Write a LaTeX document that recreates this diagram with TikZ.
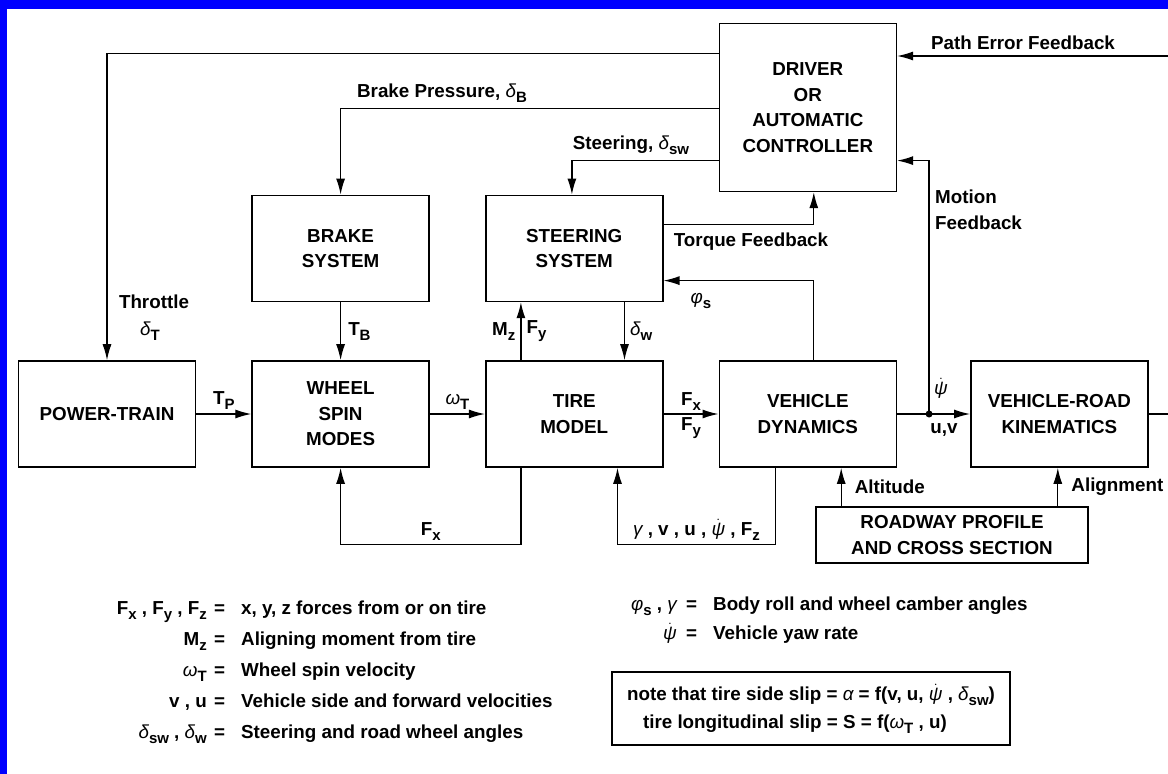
\documentclass[tikz,border=0pt]{standalone}
\usepackage{fontspec}
\setmainfont{Liberation Sans}
\usepackage{tikz}
\usetikzlibrary{arrows.meta, positioning}
\newcommand{\lowsub}[1]{\raisebox{-5pt}{\fontsize{15}{15}\selectfont #1}}
\newcommand{\gk}[1]{{\mdseries\itshape #1}}
\newcommand{\psidot}{$\dot{\hbox{\mdseries\itshape ψ}}$}
\tikzset{
  block/.style={draw, line width=1.6pt, align=center, minimum width=177pt,
    minimum height=106pt, font=\bfseries\fontsize{18.8}{25.5}\selectfont},
  roadbox/.style={block, minimum width=272pt, minimum height=56pt},
  notebox/.style={draw, line width=1.6pt, align=left, minimum width=398pt,
    minimum height=73pt, font=\bfseries\fontsize{18.8}{28}\selectfont},
  txt/.style={inner sep=1pt, font=\bfseries\fontsize{18.8}{25.5}\selectfont},
  symtab/.style={inner sep=0pt, font=\bfseries\fontsize{18.8}{31}\selectfont},
  symtabb/.style={inner sep=0pt, font=\bfseries\fontsize{18.8}{29}\selectfont},
  arrow/.style={-{Latex[length=16pt, width=9pt]}, line width=1.3pt},
  wire/.style={line width=1.3pt}
}

\begin{document}
\begin{tikzpicture}[x=1pt, y=-1pt, node distance=55pt and 55pt]
    \useasboundingbox (0,0) rectangle (1168,774);
    \fill[white] (0,0) rectangle (1168,774);
    \fill[blue] (0,0) rectangle (1168,9);
    \fill[blue] (0,0) rectangle (7,774);

    % blocks
    \node[block] (pt) at (107,414) {POWER-TRAIN};
    \node[block, right=of pt] (ws) {WHEEL\\SPIN\\MODES};
    \node[block, right=of ws] (tire) {TIRE\\MODEL};
    \node[block, right=of tire] (vd) {VEHICLE\\DYNAMICS};
    \node[block, right=73pt of vd] (vr) {VEHICLE-ROAD\\KINEMATICS};
    \node[block, above=58pt of ws] (brake) {BRAKE\\SYSTEM};
    \node[block, above=58pt of tire] (steer) {STEERING\\SYSTEM};
    \node[block, minimum height=168pt, above=168pt of vd] (driver) {DRIVER\\OR\\AUTOMATIC\\CONTROLLER};
    \node[roadbox] (road) at (952,535) {ROADWAY PROFILE\\AND CROSS SECTION};

    % driver outputs
    \draw[arrow] ([yshift=-31pt]driver.north west) -| (pt.north);
    \draw[arrow] ([yshift=-86pt]driver.north west) -| (brake.north);
    \draw[arrow] ([yshift=-138pt]driver.north west) -| ([xshift=87pt]steer.north west);
    \node[txt] (lthr) at (154,302) {Throttle};
    \node[txt] (ldt) at (150,331) {\gk{δ}\lowsub{T}};
    \node[txt] (lbp) at (442,93) {Brake Pressure, \gk{δ}\lowsub{B}};
    \node[txt] (lsw) at (631,145) {Steering, \gk{δ}\lowsub{sw}};

    % feedback to driver
    \coordinate (pe) at (1168,56);
    \coordinate (jn) at ([xshift=32pt]vd.east);
    \draw[arrow] (pe) -- (pe -| driver.east);
    \draw[arrow] (jn) |- ([yshift=-138pt]driver.north east);
    \draw[arrow] ([yshift=-30pt]steer.north east) -| ([xshift=6pt]driver.south);
    \draw[arrow] ([xshift=6pt]vd.north) |- ([yshift=-86pt]steer.north east);
    \node[txt] (lpe) at (1023,43) {Path Error Feedback};
    \node[txt, align=left, anchor=west] (lmf) at (934,210) {Motion\\Feedback};
    \node[txt] (ltq) at (751,242) {Torque Feedback};
    \node[txt] (lphi) at (701,301) {\gk{φ}\lowsub{s}};

    % main signal path
    \draw[arrow] (pt) -- node[txt, above=3pt] (ltp) {T\lowsub{P}} (ws);
    \draw[arrow] (brake) -- node[txt, right=6pt] (ltb) {T\lowsub{B}} (ws);
    \draw[arrow] (ws) -- node[txt, above=3pt] (lwt) {\gk{ω}\lowsub{T}} (tire);
    \draw[arrow] ([xshift=36pt]tire.north west) -- node[txt, left=4pt] (lmz) {M\lowsub{z}}
      node[txt, right=4pt] (lfya) {F\lowsub{y}} ([xshift=36pt]steer.south west);
    \draw[arrow] ([xshift=-39pt]steer.south east) -- node[txt, right=4pt] (ldw) {\gk{δ}\lowsub{w}}
      ([xshift=-39pt]tire.north east);
    \draw[arrow] (tire) -- node[txt, above=2pt] (lfxa) {F\lowsub{x}}
      node[txt, below=2pt] (lfyb) {F\lowsub{y}} (vd);
    \draw[arrow] (vd) -- (vr);
    \fill (jn) circle (3.5pt);
    \node[txt] (lpsi) at (941,388) {\psidot};
    \node[txt] (luv) at (944,430) {u,v};
    \coordinate (out) at (1168,414);
    \draw[wire] (vr.east) -- (out);

    % lower loops
    \draw[arrow] ([xshift=36pt]tire.south west) -- ++(0,77)
      -| node[txt, pos=0.25, above=3pt] (lfxb) {F\lowsub{x}} (ws.south);
    \draw[arrow] ([xshift=57pt]vd.south west) -- ++(0,77)
      -| node[txt, pos=0.25, above=3pt] (lstate) {\gk{γ} , v , u , \psidot{} , F\lowsub{z}}
      ([xshift=-46pt]tire.south east);

    % road inputs
    \coordinate (alt) at ([xshift=26pt]road.north west);
    \coordinate (aln) at ([xshift=-31pt]road.north east);
    \draw[arrow] (alt) -- node[txt, right=12pt] (lalt) {Altitude} (alt |- vd.south);
    \draw[arrow] (aln) -- node[txt, right=12pt] (laln) {Alignment} (aln |- vr.south);

    % symbol list
    \node[symtab, anchor=east] (syma) at (207,670) {\begin{tabular}{@{}r@{}}
      F\lowsub{x} , F\lowsub{y} , F\lowsub{z}\\
      M\lowsub{z}\\
      \gk{ω}\lowsub{T}\\
      v , u\\
      \gk{δ}\lowsub{sw} , \gk{δ}\lowsub{w}
    \end{tabular}};
    \node[symtab, anchor=west] (defa) at (214,670) {\begin{tabular}{@{}l@{}}
      =\hspace{16pt}x, y, z forces from or on tire\\
      =\hspace{16pt}Aligning moment from tire\\
      =\hspace{16pt}Wheel spin velocity\\
      =\hspace{16pt}Vehicle side and forward velocities\\
      =\hspace{16pt}Steering and road wheel angles
    \end{tabular}};
    \node[symtabb, anchor=east] (symb) at (677,619.5) {\begin{tabular}{@{}r@{}}
      \gk{φ}\lowsub{s} , \gk{γ}\\
      \psidot
    \end{tabular}};
    \node[symtabb, anchor=west] (defb) at (686,619.5) {\begin{tabular}{@{}l@{}}
      =\hspace{16pt}Body roll and wheel camber angles\\
      =\hspace{16pt}Vehicle yaw rate
    \end{tabular}};
    \node[notebox] (note) at (811,708.5) {note that tire side slip = \gk{α} = f(v, u, \psidot{} , \gk{δ}\lowsub{sw})\\
      \hspace{16pt}tire longitudinal slip = S = f(\gk{ω}\lowsub{T} , u)};
  \end{tikzpicture}
\end{document}
